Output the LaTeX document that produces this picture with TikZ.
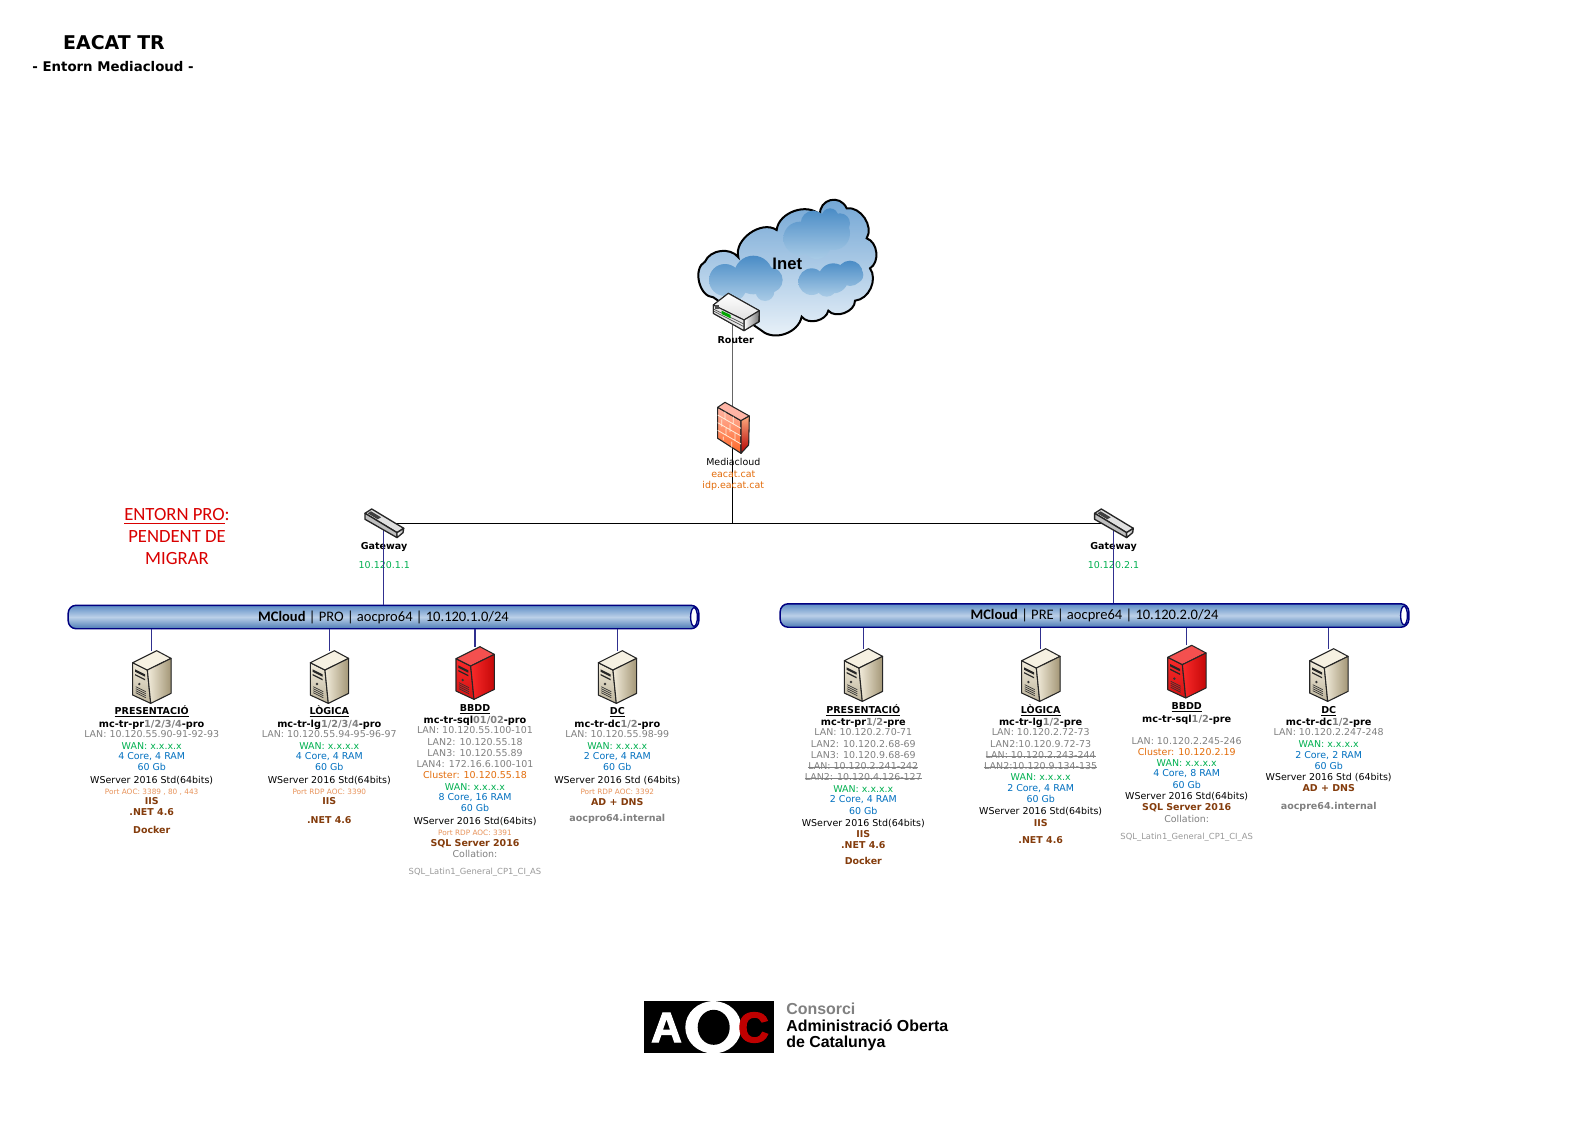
\documentclass[tikz,border=0pt]{standalone}
\usepackage{fontspec}
\setmainfont{DejaVu Sans}
\newfontfamily\carl{Carlito}
\newfontfamily\libs{Liberation Sans}
\newfontfamily\logof[BoldFeatures={FakeBold=2.5}]{Liberation Sans}
\usetikzlibrary{calc}
\newsavebox\strkbox
\newcommand\strk[1]{\sbox\strkbox{#1}\rlap{\usebox\strkbox}\raisebox{2.2pt}{\rule{\wd\strkbox}{.35pt}}}
\definecolor{cLan}{HTML}{808080}
\definecolor{cWan}{HTML}{00B050}
\definecolor{cSpec}{HTML}{0070C0}
\definecolor{cPort}{HTML}{E8935A}
\definecolor{cClu}{HTML}{E36C0A}
\definecolor{cSoft}{HTML}{843C0C}
\definecolor{cLink}{HTML}{30308F}
\definecolor{cNavy}{HTML}{000080}
\definecolor{pTop}{HTML}{5B8BC4}
\definecolor{pMid}{HTML}{BBD0E8}
\definecolor{pBot}{HTML}{4C7BB5}
\definecolor{cloudT}{HTML}{6EA3D3}
\definecolor{cloudB}{HTML}{EDF4FA}
\definecolor{blobT}{HTML}{4A8CC6}
\definecolor{blobB}{HTML}{A9CBE6}
\definecolor{sTop}{HTML}{F6F1E2}
\definecolor{sFront}{HTML}{BDB49C}
\definecolor{sLight}{HTML}{F2ECDB}
\definecolor{sDark}{HTML}{A39676}
\definecolor{rTop}{HTML}{F4504F}
\definecolor{rFront}{HTML}{D21212}
\definecolor{rLight}{HTML}{FA2A2A}
\definecolor{rDark}{HTML}{C40808}
\newcommand\fsz[1]{\fontsize{#1}{#1}\selectfont}
\tikzset{
 lbl/.style={inner sep=0pt,anchor=center,text height=5.4pt,text depth=1.4pt,font=\fsz{7.1}},
 hdr/.style={lbl,font=\fsz{7.15}\bfseries,yshift=.5pt},
 nme/.style={lbl,font=\fsz{7.3}\bfseries},
 lan/.style={lbl,text=cLan},
 wan/.style={lbl,text=cWan},
 spc/.style={lbl,text=cSpec},
 osv/.style={lbl,text=black},
 prt/.style={lbl,text=cPort,font=\fsz{5.5}},
 clu/.style={lbl,text=cClu},
 sft/.style={lbl,text=cSoft,font=\fsz{7.1}\bfseries},
 gry/.style={lbl,text=cLan},
 ltn/.style={lbl,text=cLan!80,font=\fsz{6.3}},
 dom/.style={lbl,text=cLan,font=\fsz{7.15}\bfseries},
 link/.style={cLink,line width=0.8pt},
 pipe/.style={draw=cNavy,line width=1.1pt,rounded corners=6pt,inner sep=0pt,
   minimum height=17.6pt,top color=pTop,bottom color=pBot,middle color=pMid,font=\carl\fsz{10.9}},
 icon/.style={draw=black!85,line width=0.8pt,line join=round},
}
\newcommand\txtat[5]{\node[#1] (#2) at (#3,#4) {#5};}
\newcommand\gname[3]{#1\textcolor{cLan}{#2}#3}
% server icon: #1 coordinate name, #2 x, #3 y, #4 top, #5 front, #6 side light, #7 side dark
\newcommand\srvicon[7]{%
 \coordinate (#1) at (#2,#3);
 \begin{scope}[shift={(#2,#3)},x=.25pt,y=-.25pt]
  \filldraw[icon,top color=#6,bottom color=#5] (-57,36)--(-13,58)--(-3,158)--(-57,133)--cycle;
  \filldraw[icon,fill=#4] (-57,36)--(15,0)--(58,23)--(-13,58)--cycle;
  \filldraw[icon,left color=#6,right color=#7] (-13,58)--(58,23)--(58,128)--(-3,158)--cycle;
  \fill[black!85] (-50,56)--(-20,71)--(-20,78)--(-50,63)--cycle;
  \fill[black!85] (-50,70)--(-20,85)--(-20,89)--(-50,74)--cycle;
  \fill[black!80] (-37,100) circle (4);
  \foreach \k in {0,1,2,3}{\draw[black!80,line width=.5pt] (-48,108+6*\k)--(-18,123+6*\k);}
 \end{scope}}
% gateway icon
\newcommand\gwicon[3]{%
 \coordinate (#1) at (#2,#3);
 \begin{scope}[shift={(#2,#3)},x=.25pt,y=-.25pt]
  \filldraw[icon,fill=black!12,line width=1pt] (-56,-30)--(-36,-43)--(60,15)--(40,28)--cycle;
  \filldraw[icon,fill=black!25,line width=1pt] (-56,-30)--(40,28)--(40,43)--(-56,-12)--cycle;
  \filldraw[icon,left color=white,right color=black!35,line width=1pt] (40,28)--(60,15)--(58,28)--(40,43)--cycle;
  \fill[black!75] (-48,-30)--(-38,-36)--(-8,-18)--(-18,-12)--cycle;
 \end{scope}}
\begin{document}
\begin{tikzpicture}[x=.75pt,y=-.75pt]
\useasboundingbox (0,0) rectangle (1587,1123);
\fill[white] (0,0) rectangle (1587,1123);

% title
\node[inner sep=0pt,font=\fsz{14.2}\bfseries] (title) at (114,42.7) {EACAT TR};
\node[inner sep=0pt,font=\fsz{10}\bfseries] (subtitle) at (113,66.7) {- Entorn Mediacloud -};
\node[inner sep=0pt,align=center,text=red!85!black,font=\carl\fsz{14}] (note) at (177,537) {\underline{ENTORN PRO}:\\[2.5pt]PENDENT DE\\[2.5pt]MIGRAR};

% cloud
\begin{scope}[shift={(670,180)},x=.25pt,y=-.25pt]
 \path[draw=black,line width=1.5pt,top color=cloudT,bottom color=cloudB]
  (130,352) to[bend left=75] (105,245) to[bend left=60] (205,232) to[bend left=70] (320,150)
  to[bend left=65] (450,105) to[bend left=80,looseness=1.5] (530,85) to[bend left=65] (590,175)
  to[bend left=65] (600,265) to[bend left=60] (555,362) to[bend left=70] (475,392)
  to[bend left=65] (395,410) to[bend left=60] (275,452) -- cycle;
 \path[top color=blobT,bottom color=blobB] (390,175) circle (50) (430,130) circle (38) (480,110) circle (25) (490,160) circle (50) (440,195) circle (42) (510,130) circle (30);
 \path[top color=blobT,bottom color=blobB] (165,300) circle (48) (250,285) circle (58) (300,300) circle (38) (190,325) circle (38) (285,335) circle (28);
 \path[top color=blobT,bottom color=blobB] (425,305) circle (40) (490,295) circle (45) (540,280) circle (38) (470,320) circle (30) (555,285) circle (25);
\end{scope}
\node[inner sep=0pt,font=\libs\fsz{12.5}\bfseries] (inet) at (787.3,264) {Inet};

% connectors
\coordinate (router) at (732.7,325);
\coordinate (fw) at (732.7,425);
\coordinate (gwa) at (383.7,523.3);
\coordinate (gwb) at (1113.3,523.3);
\node[pipe,minimum width=473pt] (pipepro) at (383.5,617) {\textbf{MCloud} | PRO | aocpro64 | 10.120.1.0/24};
\node[pipe,minimum width=471.5pt] (pipepre) at (1094.5,615.5) {\textbf{MCloud} | PRE | aocpre64 | 10.120.2.0/24};
\draw[black!60,line width=1pt] (router) -- (fw);
\draw[black,line width=1pt] (fw) -- (fw |- gwa);
\draw[black,line width=.8pt] (gwa) -- (gwb);

% pipe ends
\filldraw[draw=cNavy,line width=1pt,fill=white] (694,617) ellipse (3.4 and 9.3);
\filldraw[draw=cNavy,line width=1pt,fill=white] (1404,615.5) ellipse (3.4 and 9.3);

% gateway labels
\txtat{hdr}{gwal}{384}{547.7}{Gateway}
\txtat{wan}{gwaip}{384.3}{565.7}{10.120.1.1}
\txtat{hdr}{gwbl}{1113.5}{547.7}{Gateway}
\txtat{wan}{gwbip}{1113.5}{565.7}{10.120.2.1}
\draw[link] (gwa) -- (gwa |- pipepro.north);
\draw[link] (gwb) -- (gwb |- pipepre.north);

% gateways
\gwicon{gwaicon}{383.7}{523.3}
\gwicon{gwbicon}{1113.3}{523.3}

% router
\begin{scope}[shift={(670,180)},x=.25pt,y=-.25pt]
 \filldraw[icon,fill=black!15] (130,375)--(130,400)--(222,452)--(268,425)--(268,392)--(175,340)--cycle;
 \filldraw[icon,top color=white,bottom color=black!12] (130,375)--(175,340)--(268,392)--(222,420)--cycle;
 \filldraw[icon,left color=white,right color=black!55] (222,420)--(268,392)--(266,425)--(222,452)--cycle;
 \filldraw[icon,fill=black!10] (130,375)--(222,420)--(222,452)--(130,400)--cycle;
 \draw[black!70,line width=.5pt] (132,388)--(222,432) (132,394)--(222,440);
 \fill[green!65!black] (155,392)--(182,405)--(182,415)--(155,402)--cycle;
 \fill[black!70] (136,376) rectangle (146,388);
\end{scope}
\txtat{hdr}{routerl}{735.7}{341.7}{Router}

% firewall
\begin{scope}[shift={(670,180)},x=.25pt,y=-.25pt]
 \filldraw[icon,top color=orange!35!red!35!white,bottom color=orange!60!red!85!white] (143,682)--(213,722)--(213,820)--(143,775)--cycle;
 \filldraw[icon,fill=orange!35!red!35!white] (143,682)--(165,667)--(238,708)--(213,722)--cycle;
 \filldraw[icon,top color=orange!70!red!50!white,bottom color=red!70!black] (213,722)--(238,708)--(236,795)--(213,820)--cycle;
 \draw[white!85!orange,line width=.6pt]
  (143,705)--(213,745) (143,728)--(213,768) (143,751)--(213,792)
  (165,695)--(165,717) (190,710)--(190,732) (155,718)--(155,740) (180,733)--(180,756)
  (168,745)--(168,765) (195,760)--(195,783) (160,770)--(160,780) (185,785)--(185,803);
\end{scope}
\txtat{lbl}{fwl}{733.3}{462.7}{Mediacloud}
\txtat{clu}{fwd}{733.3}{475}{eacat.cat}
\txtat{clu}{fwe}{733.3}{486}{idp.eacat.cat}

% server connectors and icons
\foreach \n/\x/\y/\p in {a/151.7/650.7/pipepro,b/329.3/650.7/pipepro,c/475/646.7/pipepro,d/617.3/650.7/pipepro,e/863.3/648.7/pipepre,f/1040.7/648.7/pipepre,g/1186.7/645.3/pipepre,h/1328.7/648.7/pipepre}{
 \coordinate (top\n) at (\x,\y);
 \draw[link] (top\n) -- (top\n |- \p.south);
}
\srvicon{srva}{151.7}{650.7}{sTop}{sFront}{sLight}{sDark}
\srvicon{srvb}{329.3}{650.7}{sTop}{sFront}{sLight}{sDark}
\srvicon{srvc}{475}{646.7}{rTop}{rFront}{rLight}{rDark}
\srvicon{srvd}{617.3}{650.7}{sTop}{sFront}{sLight}{sDark}
\srvicon{srve}{863.3}{648.7}{sTop}{sFront}{sLight}{sDark}
\srvicon{srvf}{1040.7}{648.7}{sTop}{sFront}{sLight}{sDark}
\srvicon{srvg}{1186.7}{645.3}{rTop}{rFront}{rLight}{rDark}
\srvicon{srvh}{1328.7}{648.7}{sTop}{sFront}{sLight}{sDark}

% PRO presentacio
\def\X{151.7}
\txtat{hdr}{a1}{\X}{712.3}{\underline{PRESENTACIÓ}}
\txtat{nme}{a2}{\X}{724.7}{\gname{mc-tr-pr}{1/2/3/4}{-pro}}
\txtat{lan}{a3}{\X}{735.3}{LAN: 10.120.55.90-91-92-93}
\txtat{wan}{a4}{\X}{746.7}{WAN: x.x.x.x}
\txtat{spc}{a5}{\X}{757.3}{4 Core, 4 RAM}
\txtat{spc}{a6}{\X}{768.3}{60 Gb}
\txtat{osv}{a7}{\X}{780.7}{WServer 2016 Std(64bits)}
\txtat{prt}{a8}{\X}{792}{Port AOC: 3389 , 80 , 443}
\txtat{sft}{a9}{\X}{802.3}{IIS}
\txtat{sft}{a10}{\X}{813.3}{.NET 4.6}
\txtat{sft}{a11}{\X}{830.7}{Docker}
% PRO logica
\def\X{329.3}
\txtat{hdr}{b1}{\X}{712.3}{\underline{LÒGICA}}
\txtat{nme}{b2}{\X}{724.7}{\gname{mc-tr-lg}{1/2/3/4}{-pro}}
\txtat{lan}{b3}{\X}{735.3}{LAN: 10.120.55.94-95-96-97}
\txtat{wan}{b4}{\X}{746.7}{WAN: x.x.x.x}
\txtat{spc}{b5}{\X}{757.3}{4 Core, 4 RAM}
\txtat{spc}{b6}{\X}{768.3}{60 Gb}
\txtat{osv}{b7}{\X}{780.7}{WServer 2016 Std(64bits)}
\txtat{prt}{b8}{\X}{792}{Port RDP AOC: 3390}
\txtat{sft}{b9}{\X}{802.3}{IIS}
\txtat{sft}{b10}{\X}{820.7}{.NET 4.6}
% PRO bbdd
\def\X{475}
\txtat{hdr}{c1}{\X}{709.3}{\underline{BBDD}}
\txtat{nme}{c2}{\X}{720.7}{\gname{mc-tr-sql}{01/02}{-pro}}
\txtat{lan}{c3}{\X}{731.3}{LAN: 10.120.55.100-101}
\txtat{lan}{c4}{\X}{742.7}{LAN2: 10.120.55.18}
\txtat{lan}{c5}{\X}{754}{LAN3: 10.120.55.89}
\txtat{lan}{c6}{\X}{765.3}{LAN4: 172.16.6.100-101}
\txtat{clu}{c7}{\X}{776.3}{Cluster: 10.120.55.18}
\txtat{wan}{c8}{\X}{787.7}{WAN: x.x.x.x}
\txtat{spc}{c9}{\X}{798.3}{8 Core, 16 RAM}
\txtat{spc}{c10}{\X}{809.3}{60 Gb}
\txtat{osv}{c11}{\X}{821.7}{WServer 2016 Std(64bits)}
\txtat{prt}{c12}{\X}{833}{Port RDP AOC: 3391}
\txtat{sft}{c13}{\X}{843.7}{SQL Server 2016}
\txtat{gry}{c14}{\X}{854.7}{Collation:}
\txtat{ltn}{c15}{\X}{872}{SQL\_Latin1\_General\_CP1\_CI\_AS}
% PRO dc
\def\X{617.3}
\txtat{hdr}{d1}{\X}{712.7}{\underline{DC}}
\txtat{nme}{d2}{\X}{724.7}{\gname{mc-tr-dc}{1/2}{-pro}}
\txtat{lan}{d3}{\X}{735.3}{LAN: 10.120.55.98-99}
\txtat{wan}{d4}{\X}{746.7}{WAN: x.x.x.x}
\txtat{spc}{d5}{\X}{757.3}{2 Core, 4 RAM}
\txtat{spc}{d6}{\X}{768.3}{60 Gb}
\txtat{osv}{d7}{\X}{780.7}{WServer 2016 Std (64bits)}
\txtat{prt}{d8}{\X}{792}{Port RDP AOC: 3392}
\txtat{sft}{d9}{\X}{802.7}{AD + DNS}
\txtat{dom}{d10}{\X}{819.3}{aocpro64.internal}
% PRE presentacio
\def\X{863.3}
\txtat{hdr}{e1}{\X}{711.7}{\underline{PRESENTACIÓ}}
\txtat{nme}{e2}{\X}{722.7}{\gname{mc-tr-pr}{1/2}{-pre}}
\txtat{lan}{e3}{\X}{733.3}{LAN: 10.120.2.70-71}
\txtat{lan}{e4}{\X}{745.3}{LAN2: 10.120.2.68-69}
\txtat{lan}{e5}{\X}{756.3}{LAN3: 10.120.9.68-69}
\txtat{lan}{e6}{\X}{767.3}{\strk{LAN: 10.120.2.241-242}}
\txtat{lan}{e7}{\X}{778.3}{\strk{LAN2: 10.120.4.126-127}}
\txtat{wan}{e8}{\X}{789.7}{WAN: x.x.x.x}
\txtat{spc}{e9}{\X}{800.3}{2 Core, 4 RAM}
\txtat{spc}{e10}{\X}{812.3}{60 Gb}
\txtat{osv}{e11}{\X}{823.7}{WServer 2016 Std(64bits)}
\txtat{sft}{e12}{\X}{834.7}{IIS}
\txtat{sft}{e13}{\X}{845.7}{.NET 4.6}
\txtat{sft}{e14}{\X}{862.3}{Docker}
% PRE logica
\def\X{1040.7}
\txtat{hdr}{f1}{\X}{711.7}{\underline{LÒGICA}}
\txtat{nme}{f2}{\X}{722.7}{\gname{mc-tr-lg}{1/2}{-pre}}
\txtat{lan}{f3}{\X}{733.3}{LAN: 10.120.2.72-73}
\txtat{lan}{f4}{\X}{745.3}{LAN2:10.120.9.72-73}
\txtat{lan}{f5}{\X}{756.3}{\strk{LAN: 10.120.2.243-244}}
\txtat{lan}{f6}{\X}{767.3}{\strk{LAN2:10.120.9.134-135}}
\txtat{wan}{f7}{\X}{778.3}{WAN: x.x.x.x}
\txtat{spc}{f8}{\X}{789.3}{2 Core, 4 RAM}
\txtat{spc}{f9}{\X}{800.3}{60 Gb}
\txtat{osv}{f10}{\X}{812.3}{WServer 2016 Std(64bits)}
\txtat{sft}{f11}{\X}{823.7}{IIS}
\txtat{sft}{f12}{\X}{840.7}{.NET 4.6}
% PRE bbdd
\def\X{1186.7}
\txtat{hdr}{g1}{\X}{707.7}{\underline{BBDD}}
\txtat{nme}{g2}{\X}{720}{\gname{mc-tr-sql}{1/2}{-pre}}
\txtat{lan}{g3}{\X}{741.7}{LAN: 10.120.2.245-246}
\txtat{clu}{g4}{\X}{752.7}{Cluster: 10.120.2.19}
\txtat{wan}{g5}{\X}{763.7}{WAN: x.x.x.x}
\txtat{spc}{g6}{\X}{774.3}{4 Core, 8 RAM}
\txtat{spc}{g7}{\X}{786.3}{60 Gb}
\txtat{osv}{g8}{\X}{797.3}{WServer 2016 Std(64bits)}
\txtat{sft}{g9}{\X}{808.3}{SQL Server 2016}
\txtat{gry}{g10}{\X}{819.7}{Collation:}
\txtat{ltn}{g11}{\X}{836.7}{SQL\_Latin1\_General\_CP1\_CI\_AS}
% PRE dc
\def\X{1328.7}
\txtat{hdr}{h1}{\X}{711.7}{\underline{DC}}
\txtat{nme}{h2}{\X}{722.7}{\gname{mc-tr-dc}{1/2}{-pre}}
\txtat{lan}{h3}{\X}{733.3}{LAN: 10.120.2.247-248}
\txtat{wan}{h4}{\X}{745.3}{WAN: x.x.x.x}
\txtat{spc}{h5}{\X}{756.3}{2 Core, 2 RAM}
\txtat{spc}{h6}{\X}{767.3}{60 Gb}
\txtat{osv}{h7}{\X}{778.3}{WServer 2016 Std (64bits)}
\txtat{sft}{h8}{\X}{789.3}{AD + DNS}
\txtat{dom}{h9}{\X}{806.7}{aocpre64.internal}

% logo
\fill[black] (644,1001) rectangle (774.3,1053.3);
\fill[white] (713.3,1027.3) ellipse (28 and 26.2);
\fill[black] (713.7,1027.3) ellipse (16 and 17.5);
\node[inner sep=0pt,text=white,font=\logof\fsz{32}\bfseries] (logoa) at (666.5,1027.5) {A};
\node[inner sep=0pt,text=red!75!black,font=\logof\fsz{32}\bfseries] (logoc) at (753.5,1027.5) {C};
\node[inner sep=0pt,anchor=base west,text=black!50,font=\libs\fsz{11.95}\bfseries] (logot1) at (786,1014) {Consorci};
\node[inner sep=0pt,anchor=base west,font=\libs\fsz{11.95}\bfseries] (logot2) at (786,1031) {Administració Oberta};
\node[inner sep=0pt,anchor=base west,font=\libs\fsz{11.95}\bfseries] (logot3) at (786,1047.5) {de Catalunya};
\end{tikzpicture}
\end{document}
